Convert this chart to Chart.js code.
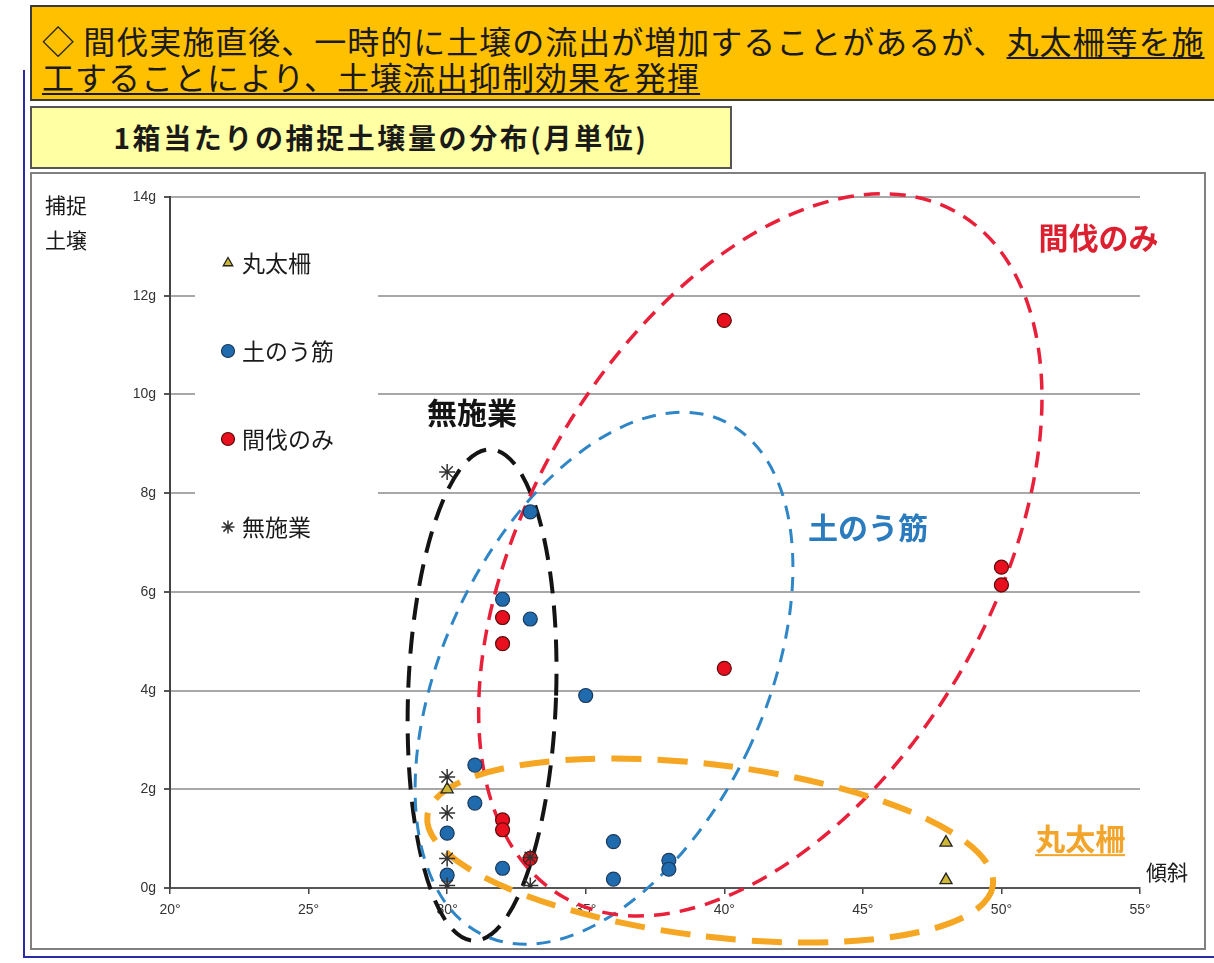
<!DOCTYPE html>
<html lang="ja">
<head>
<meta charset="utf-8">
<title>1箱当たりの捕捉土壌量の分布</title>
<script src="https://cdn.jsdelivr.net/npm/chart.js"></script>
<style>
  html, body { margin: 0; padding: 0; background: #fff; }
  body { width: 1214px; height: 963px; position: relative; overflow: hidden;
         font-family: "Noto Sans CJK JP", "Noto Sans", sans-serif; }
  #edge { position: absolute; left: 23px; top: 70px; width: 1200px; height: 886px;
          border-left: 2px solid #2b2ba8; border-bottom: 2px solid #2b2ba8; }
  #banner { position: absolute; left: 30px; top: 5px; width: 1200px; height: 96px;
            background: #ffc000; border: 2px solid #3a3a3a; box-sizing: border-box;
            padding: 15px 0 0 10px; font-size: 32px; line-height: 36px; color: #1a1a1a;
            letter-spacing: 1px; white-space: nowrap; }
  #banner u { text-decoration-thickness: 2px; text-underline-offset: 3px; }
  #title { position: absolute; left: 30px; top: 106px; width: 702px; height: 63px;
           background: #ffffa3; border: 2px solid #555; box-sizing: border-box;
           font-size: 28px; font-weight: bold; letter-spacing: 2.6px; color: #1a1a1a;
           text-align: center; line-height: 59px; }
  #frame { position: absolute; left: 30px; top: 172px; width: 1176px; height: 778px;
           border: 2px solid #808080; box-sizing: border-box; background: #fff; }
  #chart { position: absolute; left: 32px; top: 174px; }
</style>
</head>
<body>
<div id="edge"></div>
<div id="banner">◇ 間伐実施直後、一時的に土壌の流出が増加することがあるが、<u>丸太柵等を施</u><br><u>工することにより、土壌流出抑制効果を発揮</u></div>
<div id="title">1箱当たりの捕捉土壌量の分布(月単位)</div>
<div id="frame"></div>
<canvas id="chart" width="1172" height="774"></canvas>
<script>
// 傾斜(°) と 1箱当たりの捕捉土壌量(g)
const marutaSaku = [
  { x: 30, y: 2.0 }, { x: 48, y: 0.92 }, { x: 48, y: 0.16 }
];
const donouSuji = [
  { x: 33, y: 7.62 }, { x: 32, y: 5.85 }, { x: 33, y: 5.45 }, { x: 35, y: 3.9 },
  { x: 31, y: 2.49 }, { x: 31, y: 1.72 }, { x: 30, y: 1.11 }, { x: 30, y: 0.26 },
  { x: 32, y: 0.4 }, { x: 36, y: 0.94 }, { x: 36, y: 0.18 }, { x: 38, y: 0.56 },
  { x: 38, y: 0.38 }
];
const kanbatsuNomi = [
  { x: 40, y: 11.5 }, { x: 50, y: 6.5 }, { x: 50, y: 6.14 }, { x: 40, y: 4.45 },
  { x: 32, y: 5.48 }, { x: 32, y: 4.95 }, { x: 32, y: 1.38 }, { x: 32, y: 1.18 },
  { x: 33, y: 0.6 }
];
const museigyo = [
  { x: 30, y: 8.43 }, { x: 30, y: 2.25 }, { x: 30, y: 1.52 }, { x: 30, y: 0.6 },
  { x: 30, y: 0.05 }, { x: 33, y: 0.62 }, { x: 33, y: 0.05 }
];

const seriesNames = ['丸太柵', '土のう筋', '間伐のみ', '無施業'];
const yTickUnit = 'g';
const xTickUnit = '°';

// グループを囲む破線の楕円(中心・半径はデータ単位、回転は度)
const outlines = [
  { name: '無施業',  color: '#141414', cx: 31.26, cy: 3.91, rx: 2.67,  ry: 4.98, rot: 2,  width: 4,   dash: [22, 12] },
  { name: '土のう筋', color: '#2f86c6', cx: 35.66, cy: 4.25, rx: 5.81,  ry: 5.75, rot: 25, width: 3,   dash: [14, 10] },
  { name: '間伐のみ', color: '#e8203a', cx: 41.3,  cy: 6.75, rx: 8.37,  ry: 8.0,  rot: 30, width: 3.5, dash: [16, 10] },
  { name: '丸太柵',  color: '#f5a623', cx: 39.49, cy: 0.76, rx: 10.28, ry: 1.74, rot: 7,  width: 6,   dash: [30, 16] }
];
const groupLabels = [
  { text: '無施業',  color: '#141414', x: 30.9,  y: 9.64, underline: false },
  { text: '間伐のみ', color: '#dd2030', x: 53.5,  y: 13.17, underline: false },
  { text: '土のう筋', color: '#2a7cbf', x: 45.19, y: 7.31, underline: false },
  { text: '丸太柵',  color: '#f2a52a', x: 52.84, y: 1.01, underline: true }
];

const outlinePlugin = {
  id: 'outlines',
  // 楕円は点の下に描く
  beforeDatasetsDraw(chart) {
    const { ctx, scales: { x, y } } = chart;
    ctx.save();
    outlines.forEach(o => {
      const px = x.getPixelForValue(o.cx);
      const py = y.getPixelForValue(o.cy);
      const rxPx = x.getPixelForValue(o.cx + o.rx) - px;
      const ryPx = py - y.getPixelForValue(o.cy + o.ry);
      ctx.beginPath();
      ctx.ellipse(px, py, rxPx, ryPx, o.rot * Math.PI / 180, 0, Math.PI * 2);
      ctx.strokeStyle = o.color;
      ctx.lineWidth = o.width;
      ctx.setLineDash(o.dash);
      ctx.stroke();
    });
    ctx.restore();
  },
  afterDatasetsDraw(chart) {
    const { ctx, scales: { x, y } } = chart;
    ctx.save();
    ctx.font = 'bold 30px "Noto Sans CJK JP", sans-serif';
    ctx.textAlign = 'center';
    ctx.textBaseline = 'middle';
    groupLabels.forEach(l => {
      const px = x.getPixelForValue(l.x);
      const py = y.getPixelForValue(l.y);
      ctx.fillStyle = l.color;
      ctx.fillText(l.text, px, py);
      if (l.underline) {
        const w = ctx.measureText(l.text).width;
        ctx.fillRect(px - w / 2, py + 16, w, 2);
      }
    });
    ctx.restore();
  }
};

const legendPlugin = {
  id: 'boxLegend',
  afterDraw(chart) {
    const { ctx, chartArea: a } = chart;
    ctx.save();
    // 凡例の白い下地(目盛線を隠す)
    ctx.fillStyle = '#ffffff';
    ctx.fillRect(a.left + 25, a.top + 16, 183, 347);
    ctx.font = '23px "Noto Sans CJK JP", sans-serif';
    ctx.textBaseline = 'middle';
    chart.data.datasets.forEach((ds, i) => {
      const cy = a.top + 66 + i * 88;
      const cx = a.left + 58;
      ctx.fillStyle = ds.backgroundColor;
      ctx.strokeStyle = ds.borderColor;
      ctx.lineWidth = ds.borderWidth;
      Chart.helpers.drawPoint(ctx, {
        pointStyle: ds.pointStyle, radius: ds.pointStyle === 'triangle' ? 5.5 : 6.5, rotation: 0,
        borderWidth: ds.borderWidth
      }, cx, cy);
      ctx.fillStyle = '#1a1a1a';
      ctx.textAlign = 'left';
      ctx.fillText(ds.label, cx + 14, cy);
    });
    // 軸タイトル
    ctx.font = '21px "Noto Sans CJK JP", sans-serif';
    ctx.textAlign = 'center';
    ctx.fillText('捕捉', a.left - 104, a.top + 8);
    ctx.fillText('土壌', a.left - 104, a.top + 43);
    ctx.fillText('傾斜', a.right + 27, a.bottom - 16);
    ctx.restore();
  }
};

new Chart(document.getElementById('chart'), {
  type: 'scatter',
  data: {
    datasets: [
      { label: seriesNames[0], data: marutaSaku, pointStyle: 'triangle', pointRadius: 7,
        backgroundColor: '#cdb734', borderColor: '#222', borderWidth: 1.3, order: 1 },
      { label: seriesNames[1], data: donouSuji, pointStyle: 'circle', pointRadius: 7,
        backgroundColor: '#1f6bae', borderColor: '#1b3a5c', borderWidth: 1.2, order: 3 },
      { label: seriesNames[2], data: kanbatsuNomi, pointStyle: 'circle', pointRadius: 7,
        backgroundColor: '#e8101e', borderColor: '#5a0a0a', borderWidth: 1.2, order: 2 },
      { label: seriesNames[3], data: museigyo, pointStyle: 'star', pointRadius: 8,
        backgroundColor: '#333', borderColor: '#333', borderWidth: 1.5, order: 0 }
    ]
  },
  options: {
    responsive: false,
    animation: false,
    devicePixelRatio: 1,
    layout: { padding: { left: 0, right: 64, top: 23, bottom: 0 } },
    plugins: {
      legend: { display: false },
      tooltip: { enabled: false }
    },
    scales: {
      x: {
        type: 'linear',
        min: 20, max: 55,
        ticks: {
          stepSize: 5, padding: 8, color: '#333',
          font: { size: 14, family: 'Liberation Sans' },
          callback: v => v + xTickUnit
        },
        grid: { drawOnChartArea: false, drawTicks: true, tickLength: 6, color: '#444', lineWidth: 1.5 },
        border: { color: '#555', width: 2 },
        afterFit: s => { s.height = 60; }
      },
      y: {
        min: 0, max: 14,
        ticks: {
          stepSize: 2, padding: 8, color: '#333',
          font: { size: 14, family: 'Liberation Sans' },
          callback: v => v + yTickUnit
        },
        grid: {
          color: c => (c.tick && c.tick.value === 0) ? '#555' : '#a8a8a8',
          lineWidth: 2, tickLength: 6, tickColor: '#555'
        },
        border: { color: '#444', width: 2 },
        afterFit: s => { s.width = 138; }
      }
    }
  },
  plugins: [outlinePlugin, legendPlugin]
});
</script>
</body>
</html>
